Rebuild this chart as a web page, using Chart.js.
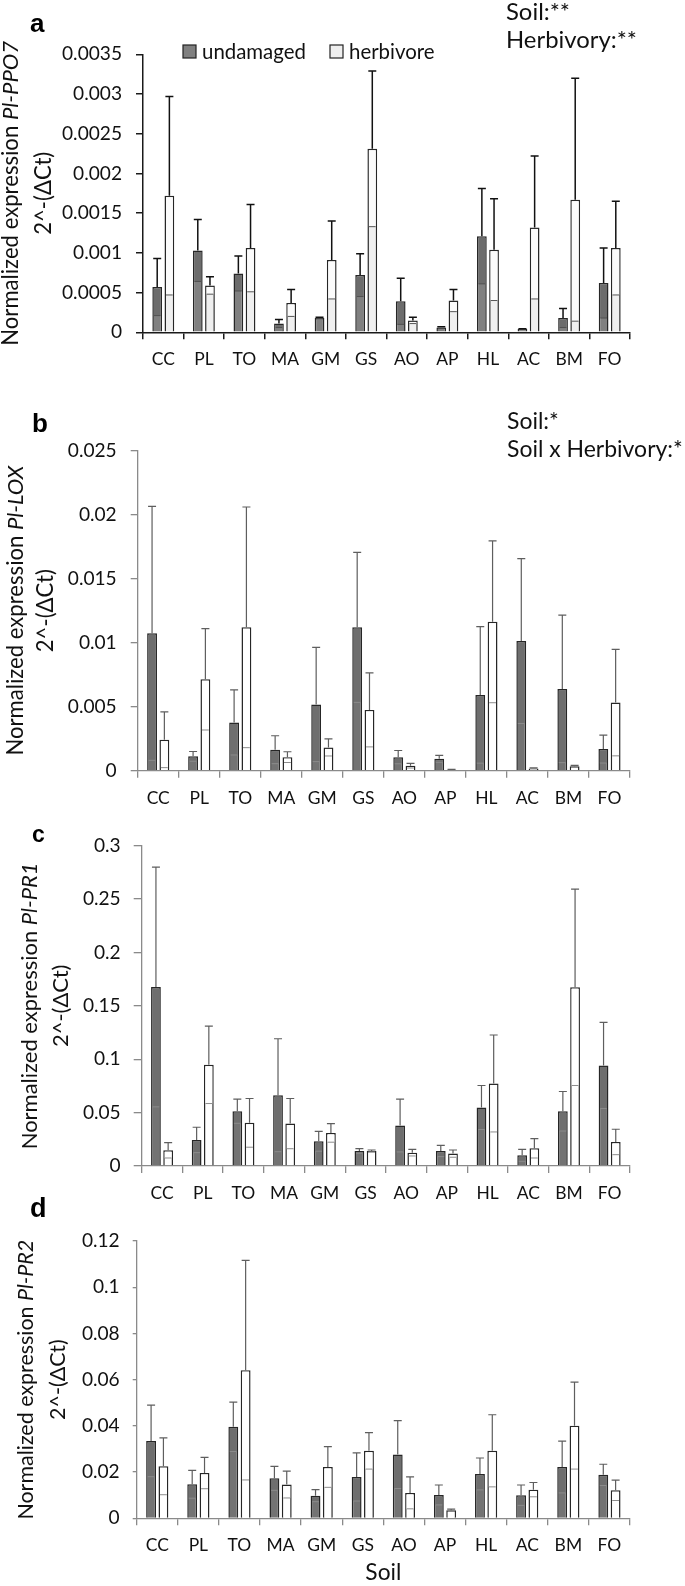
<!DOCTYPE html>
<html><head><meta charset="utf-8">
<script src="https://cdn.jsdelivr.net/npm/chart.js@4.4.1/dist/chart.umd.min.js"></script>
<style>
html,body{margin:0;padding:0;background:#fff;}
#wrap{position:relative;width:685px;height:1586px;overflow:hidden;}
.pane{position:absolute;left:0;width:685px;}
.pane canvas{display:block;}
</style></head><body>
<div id="wrap">
  <div class="pane" id="pA" style="top:0px;height:380px"><canvas id="cA"></canvas></div>
  <div class="pane" id="pB" style="top:380px;height:435px"><canvas id="cB"></canvas></div>
  <div class="pane" id="pC" style="top:815px;height:400px"><canvas id="cC"></canvas></div>
  <div class="pane" id="pD" style="top:1185px;height:401px"><canvas id="cD"></canvas></div>
</div>
<script>
// ---------------- DATA ----------------
const soils = ['CC','PL','TO','MA','GM','GS','AO','AP','HL','AC','BM','FO'];
const seriesNames = ['undamaged','herbivore'];
const xTitle = 'Soil';

// Panel a: Pl-PPO7
const ppo7Undamaged    = [0.00057,0.00103,0.00074,0.00011,0.00018,0.00072,0.00039,0.00006,0.00121,0.00004,0.00018,0.00062];
const ppo7UndamagedErr = [0.00036,0.00039,0.00022,0.00005,0.00001,0.00027,0.00029,0.00001,0.00060,0.000005,0.00012,0.00044];
const ppo7Herbivore    = [0.00172,0.00059,0.00106,0.00037,0.00091,0.00231,0.00015,0.00040,0.00104,0.00132,0.00167,0.00106];
const ppo7HerbivoreErr = [0.00125,0.00011,0.00055,0.00017,0.00049,0.00098,0.00004,0.00014,0.00064,0.00090,0.00153,0.00059];
const ppo7Ticks = [0,0.0005,0.001,0.0015,0.002,0.0025,0.003,0.0035];
const ppo7Stats = ['Soil:**','Herbivory:**'];

// Panel b: Pl-LOX
const loxUndamaged    = [0.01073,0.00112,0.00377,0.00164,0.00517,0.0112,0.00106,0.00093,0.00592,0.01013,0.00639,0.00169];
const loxUndamagedErr = [0.00992,0.00038,0.00254,0.00109,0.00446,0.00586,0.00052,0.00027,0.00533,0.00644,0.00576,0.00109];
const loxHerbivore    = [0.00242,0.00714,0.0112,0.00106,0.00182,0.00475,0.00039,0.00008,0.01163,0.00018,0.00034,0.00532];
const loxHerbivoreErr = [0.00218,0.00396,0.0094,0.00042,0.00067,0.00289,0.00018,0.00002,0.00632,0.00004,0.00008,0.00416];
const loxTicks = [0,0.005,0.01,0.015,0.02,0.025];
const loxStats = ['Soil:*','Soil x Herbivory:*'];

// Panel c: Pl-PR1
const pr1Undamaged    = [0.1677,0.0244,0.0513,0.0663,0.0232,0.0141,0.0379,0.0141,0.0548,0.0100,0.0513,0.0942];
const pr1UndamagedErr = [0.1123,0.0119,0.0113,0.0529,0.0093,0.0022,0.0247,0.0053,0.0206,0.0056,0.0185,0.0403];
const pr1Herbivore    = [0.0147,0.0948,0.0404,0.0397,0.0310,0.0141,0.0125,0.0116,0.0773,0.0166,0.1674,0.0225];
const pr1HerbivoreErr = [0.0072,0.0363,0.0228,0.0235,0.0087,0.0009,0.0031,0.0034,0.0454,0.0091,0.0920,0.0119];
const pr1Ticks = [0,0.05,0.1,0.15,0.2,0.25,0.3];
const pr1Stats = [];

// Panel d: Pl-PR2
const pr2Undamaged    = [0.0335,0.0147,0.0396,0.0173,0.0098,0.0179,0.0276,0.0101,0.0192,0.0100,0.0222,0.0188];
const pr2UndamagedErr = [0.0155,0.0060,0.0107,0.0052,0.0026,0.0104,0.0147,0.0043,0.0069,0.0044,0.0112,0.0046];
const pr2Herbivore    = [0.0225,0.0196,0.0641,0.0146,0.0222,0.0292,0.0110,0.0035,0.0292,0.0124,0.0401,0.0121];
const pr2HerbivoreErr = [0.0123,0.0068,0.0475,0.0058,0.0088,0.0079,0.0069,0.0005,0.0156,0.0031,0.0188,0.0044];
const pr2Ticks = [0,0.02,0.04,0.06,0.08,0.1,0.12];
const pr2Stats = [];

const panelLetters = ['a','b','c','d'];
const geneNames = ['Pl-PPO7','Pl-LOX','Pl-PR1','Pl-PR2'];
const yTitlePrefix = 'Normalized expression ';
const yTitleLine2 = '2^-(\u0394Ct)';

// ---------------- LAYOUT / STYLE ----------------
const FONT = 'Lato';
function fitSize(text, target, style, family){
  const c = document.createElement('canvas').getContext('2d');
  c.font = style + ' 100px ' + family;
  return 100 * target / c.measureText(text).width;
}
function fitMixed(parts, target, family){
  const c = document.createElement('canvas').getContext('2d');
  let w = 0;
  parts.forEach(p => { c.font = (p.italic ? 'italic ' : '') + '100px ' + family; w += c.measureText(p.text).width; });
  return 100 * target / w;
}
const tickSize = fitSize('0.0035', 60, '', FONT);
const catSize = fitSize('BM', 27.5, '', FONT);

const layouts = [
  {id:'cA', h:380, left:143, right:630, top:54.3, bottom:332.3, yTick:7, yPad:14,
   letter:{x:30, base:32, size:26}, titleX:[11,44], titleW:305, annX:506, annY:[12,40], annW:131, legend:true, dark:true},
  {id:'cB', h:435, left:137.7, right:630, top:70.7, bottom:390.7, yTick:7, yPad:14,
   letter:{x:32, base:52, size:26}, titleX:[16,46], titleW:290, annX:507, annY:[42,70], annW:176, legend:false, dark:false},
  {id:'cC', h:400, left:141.7, right:630, top:30.7, bottom:351, yTick:8, yPad:13,
   letter:{x:32, base:27, size:23}, titleX:[30,61], titleW:287, legend:false, dark:false},
  {id:'cD', h:401, left:136.7, right:630, top:56, bottom:333.3, yTick:4, yPad:13,
   letter:{x:30, base:32, size:27}, titleX:[26,58], titleW:280, legend:false, dark:false, xTitle:true}
];

const decorPlugin = {
  id: 'decor',
  afterDatasetsDraw(chart, args, o){
    const ctx = chart.ctx, ys = chart.scales.y;
    ctx.save();
    chart.data.datasets.forEach((ds, i) => {
      const meta = chart.getDatasetMeta(i);
      meta.data.forEach((bar, j) => {
        const v = ds.data[j], e = ds.errors[j];
        const half = bar.width / 2, bw = ds.borderWidth;
        const yMean = ys.getPixelForValue(v);
        const low = v - e;
        const yLow = ys.getPixelForValue(Math.max(0, low));
        const x0 = bar.x - half + bw, x1 = bar.x + half - bw;
        if (yLow - yMean > bw) {
          ctx.fillStyle = ds.bandColor;
          ctx.fillRect(x0, yMean + bw, x1 - x0, yLow - yMean - bw - (low > 0 ? 0 : bw));
        }
        if (low > 0) {
          ctx.strokeStyle = ds.innerColor; ctx.lineWidth = 1;
          ctx.beginPath(); ctx.moveTo(x0, yLow); ctx.lineTo(x1, yLow); ctx.stroke();
        }
        const yTop = ys.getPixelForValue(v + e);
        ctx.strokeStyle = o.errColor; ctx.lineWidth = o.errWidth;
        ctx.beginPath();
        ctx.moveTo(bar.x, yMean); ctx.lineTo(bar.x, yTop);
        ctx.moveTo(bar.x - 4, yTop); ctx.lineTo(bar.x + 4, yTop);
        ctx.stroke();
      });
    });
    ctx.restore();
  },
  afterDraw(chart, args, o){
    const ctx = chart.ctx, ca = chart.chartArea;
    ctx.save();
    ctx.fillStyle = '#000';
    // panel letter
    ctx.font = 'bold ' + o.letter.size + 'px "Liberation Sans", Arial, sans-serif';
    ctx.textAlign = 'left'; ctx.textBaseline = 'alphabetic';
    ctx.fillText(o.letterText, o.letter.x, o.letter.base);
    // stats annotations
    if (o.stats && o.stats.length) {
      const longest = o.stats.reduce((a, b) => a.length >= b.length ? a : b);
      const sz = fitSize(longest, o.annW, '', FONT);
      ctx.font = sz + 'px ' + FONT; ctx.textBaseline = 'middle'; ctx.fillStyle = '#111';
      o.stats.forEach((t, k) => ctx.fillText(t, o.annX, o.annY[k]));
    }
    // legend
    if (o.legend) {
      const sz = fitSize('undamaged', 104, '', FONT);
      ctx.font = sz + 'px ' + FONT; ctx.textBaseline = 'middle';
      const items = [{x:183, tx:202, fill:o.legendFills[0], text:o.legendNames[0]},
                     {x:330, tx:349, fill:o.legendFills[1], text:o.legendNames[1]}];
      items.forEach(it => {
        ctx.fillStyle = it.fill; ctx.fillRect(it.x, 45, 13, 13);
        ctx.strokeStyle = '#222'; ctx.lineWidth = 1.2; ctx.strokeRect(it.x, 45, 13, 13);
        ctx.fillStyle = '#111'; ctx.fillText(it.text, it.tx, 52);
      });
    }
    // y-axis title (two lines, rotated)
    const cy = (ca.top + ca.bottom) / 2;
    const parts = [{text: yTitlePrefix, italic:false}, {text: o.gene, italic:true}];
    const sz = fitMixed(parts, o.titleW, FONT);
    ctx.fillStyle = '#111';
    ctx.textBaseline = 'middle'; ctx.textAlign = 'left';
    ctx.save();
    ctx.translate(o.titleX[0], cy); ctx.rotate(-Math.PI / 2);
    let w = 0;
    parts.forEach(p => { ctx.font = (p.italic ? 'italic ' : '') + sz + 'px ' + FONT; w += ctx.measureText(p.text).width; });
    let x = -w / 2;
    parts.forEach(p => { ctx.font = (p.italic ? 'italic ' : '') + sz + 'px ' + FONT; ctx.fillText(p.text, x, 0); x += ctx.measureText(p.text).width; });
    ctx.restore();
    ctx.save();
    ctx.translate(o.titleX[1], cy); ctx.rotate(-Math.PI / 2);
    ctx.font = sz + 'px ' + FONT; ctx.textAlign = 'center';
    ctx.fillText(yTitleLine2, 0, 0);
    ctx.restore();
    ctx.restore();
  }
};

const panels = [
  {und: ppo7Undamaged, undErr: ppo7UndamagedErr, her: ppo7Herbivore, herErr: ppo7HerbivoreErr, ticks: ppo7Ticks, stats: ppo7Stats},
  {und: loxUndamaged,  undErr: loxUndamagedErr,  her: loxHerbivore,  herErr: loxHerbivoreErr,  ticks: loxTicks,  stats: loxStats},
  {und: pr1Undamaged,  undErr: pr1UndamagedErr,  her: pr1Herbivore,  herErr: pr1HerbivoreErr,  ticks: pr1Ticks,  stats: pr1Stats},
  {und: pr2Undamaged,  undErr: pr2UndamagedErr,  her: pr2Herbivore,  herErr: pr2HerbivoreErr,  ticks: pr2Ticks,  stats: pr2Stats}
];

Chart.defaults.font.family = FONT;
Chart.defaults.color = '#111';
Chart.defaults.animation = false;

panels.forEach((p, k) => {
  const L = layouts[k];
  const canvas = document.getElementById(L.id);
  canvas.width = 685; canvas.height = L.h;
  canvas.style.width = '685px'; canvas.style.height = L.h + 'px';
  const axisColor = L.dark ? '#1a1a1a' : '#8a8a8a';
  const axisW = L.dark ? 1.5 : 1.3;
  const undFill = L.dark ? '#808080' : '#737373';
  const herFill = L.dark ? '#efefef' : '#ffffff';
  new Chart(canvas, {
    type: 'bar',
    data: {
      labels: soils,
      datasets: [
        {label: seriesNames[0], data: p.und, errors: p.undErr, backgroundColor: undFill, borderColor: '#262626', borderWidth: 1.5,
         bandColor: L.dark ? '#6c6c6c' : '#6e6e6e', innerColor: L.dark ? '#505050' : '#8c8c8c',
         categoryPercentage: 0.6, barPercentage: 0.8},
        {label: seriesNames[1], data: p.her, errors: p.herErr, backgroundColor: herFill, borderColor: '#262626', borderWidth: 1.5,
         bandColor: L.dark ? '#fbfbfb' : '#ffffff', innerColor: L.dark ? '#555555' : '#8c8c8c',
         categoryPercentage: 0.6, barPercentage: 0.8}
      ]
    },
    options: {
      responsive: false,
      maintainAspectRatio: false,
      animation: false,
      layout: {padding: {top: L.top, right: 685 - L.right, left: 0, bottom: 0}},
      plugins: {
        legend: {display: false},
        tooltip: {enabled: false},
        decor: {
          letterText: panelLetters[k], letter: L.letter, gene: geneNames[k],
          titleX: L.titleX, titleW: L.titleW, stats: p.stats, annX: L.annX, annY: L.annY, annW: L.annW,
          legend: L.legend, legendFills: ['#808080', '#efefef'], legendNames: seriesNames,
          errColor: L.dark ? '#111' : '#5e5e5e', errWidth: L.dark ? 1.5 : 1.2
        }
      },
      scales: {
        x: {
          offset: true,
          grid: {display: true, drawOnChartArea: false, drawTicks: true, tickLength: 7, color: axisColor, lineWidth: axisW, offset: true},
          border: {display: true, color: axisColor, width: axisW},
          ticks: {font: {size: catSize}, color: '#111', padding: 10, maxRotation: 0, autoSkip: false},
          title: {display: !!L.xTitle, text: xTitle, font: {size: fitSize('Soil', 36, '', FONT)}, color: '#111', padding: {top: 0, bottom: 0}},
          afterFit: s => { s.height = L.h - L.bottom; }
        },
        y: {
          min: 0, max: p.ticks[p.ticks.length - 1],
          afterBuildTicks: s => { s.ticks = p.ticks.map(v => ({value: v})); },
          grid: {display: true, drawOnChartArea: false, drawTicks: true, tickLength: L.yTick, color: axisColor, lineWidth: axisW},
          border: {display: true, color: axisColor, width: axisW},
          ticks: {font: {size: tickSize}, color: '#111', padding: L.yPad, callback: v => String(v)},
          afterFit: s => { s.width = L.left; }
        }
      }
    },
    plugins: [decorPlugin]
  });
});
</script>
</body></html>
